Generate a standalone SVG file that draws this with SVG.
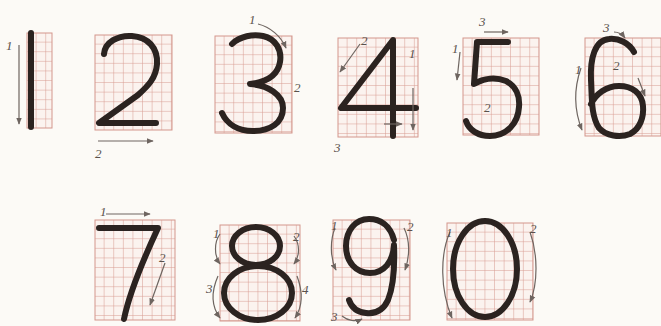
<svg xmlns="http://www.w3.org/2000/svg" width="661" height="326" viewBox="0 0 661 326">
<style>
.bg{fill:#fcfaf6}
.grid{fill:url(#g);stroke:#d3968c;stroke-width:1}
.d{fill:none;stroke:#2b2320;stroke-width:6;stroke-linecap:round;stroke-linejoin:round}
.a{fill:none;stroke:#6e6560;stroke-width:1.2;marker-end:url(#ah)}
.l{font-family:"Liberation Serif",serif;font-style:italic;font-size:13px;fill:#5a514c}
</style>
<defs>
<pattern id="g" width="9.6" height="9.6" patternUnits="userSpaceOnUse">
<rect width="9.6" height="9.6" fill="#fbf3ef"/>
<path d="M9.6 0V9.6M0 9.6H9.6" stroke="#d89a90" stroke-width="1" fill="none"/>
</pattern>
<marker id="ah" viewBox="0 0 10 10" refX="9" refY="5" markerWidth="6" markerHeight="6" orient="auto">
<path d="M0 1L10 5L0 9z" fill="#6e6560"/>
</marker>
</defs>
<rect class="bg" width="661" height="326"/>

<!-- grids -->
<g transform="translate(27,33)"><rect class="grid" width="25" height="95"/></g>
<g transform="translate(95,35)"><rect class="grid" width="77" height="95"/></g>
<g transform="translate(215,36)"><rect class="grid" width="77" height="97"/></g>
<g transform="translate(338,38)"><rect class="grid" width="80" height="99"/></g>
<g transform="translate(463,38)"><rect class="grid" width="76" height="97"/></g>
<g transform="translate(585,38)"><rect class="grid" width="76" height="98"/></g>
<g transform="translate(95,220)"><rect class="grid" width="80" height="100"/></g>
<g transform="translate(220,225)"><rect class="grid" width="80" height="96"/></g>
<g transform="translate(333,220)"><rect class="grid" width="77" height="100"/></g>
<g transform="translate(447,223)"><rect class="grid" width="86" height="97"/></g>

<!-- digits -->
<path class="d" d="M31 33V127"/>
<path class="d" d="M104 54C105 42 118 35 132 36C148 37 158 48 157 64C156 78 148 86 138 95L99 123H156"/>
<path class="d" d="M232 44C240 36 253 34 263 36C276 39 282 50 280 62C278 74 268 82 250 84C268 85 283 95 283 108C283 123 270 131 253 131C238 131 227 124 222 113"/>
<path class="d" d="M393 136V40L341 108H416"/>
<path class="d" d="M508 42H477L474 84C484 78 496 77 506 81C516 86 520 96 519 107C518 124 506 136 490 136C478 136 469 130 466 121"/>
<path class="d" d="M634 52C629 43 619 38 609 39C595 40 590 58 591 80C592 98 591 116 599 128C606 136 620 138 630 134C640 129 644 117 643 106C642 93 632 86 619 86C606 86 596 94 591 104"/>
<path class="d" d="M99 228H158C144 258 130 290 124 319"/>
<ellipse class="d" cx="256" cy="246" rx="24" ry="19"/>
<ellipse class="d" cx="258" cy="293" rx="34" ry="27"/>
<path class="d" d="M394 240C390 225 380 219 369 219C355 219 346 231 346 246C346 262 356 273 370 273C384 273 393 262 394 245C395 270 392 290 388 300C383 311 375 314 366 313C356 312 351 306 349 300"/>
<ellipse class="d" cx="485" cy="269" rx="32" ry="48"/>

<!-- arrows -->
<g id="connectors">
<path class="a" d="M19 45V124"/>
<path class="a" d="M98 141H153"/>
<path class="a" d="M258 24C270 27 281 36 286 48"/>
<path class="a" d="M413 88V130"/>
<path class="a" d="M384 124H402"/>
<path class="a" d="M360 44L340 72"/>
<path class="a" d="M484 32H508"/>
<path class="a" d="M460 52L457 80"/>
<path class="a" d="M614 32C618 32 622 34 625 38"/>
<path class="a" d="M581 68C574 88 574 110 582 130"/>
<path class="a" d="M638 78L645 96"/>
<path class="a" d="M106 214H150"/>
<path class="a" d="M165 263L150 305"/>
<path class="a" d="M220 234C214 242 214 256 220 264"/>
<path class="a" d="M294 236C300 244 300 256 294 264"/>
<path class="a" d="M218 276C211 292 211 306 220 318"/>
<path class="a" d="M297 276C303 292 303 306 295 318"/>
<path class="a" d="M335 228C330 240 330 258 336 270"/>
<path class="a" d="M404 228C410 240 410 256 405 270"/>
<path class="a" d="M342 316C348 321 356 322 362 319"/>
<path class="a" d="M450 232C440 254 440 290 452 318"/>
<path class="a" d="M530 232C538 254 538 284 530 302"/>
</g>

<!-- labels -->
<text class="l" x="6" y="50">1</text>
<text class="l" x="95" y="158">2</text>
<text class="l" x="249" y="24">1</text>
<text class="l" x="294" y="92">2</text>
<text class="l" x="361" y="45">2</text>
<text class="l" x="409" y="58">1</text>
<text class="l" x="334" y="152">3</text>
<text class="l" x="479" y="26">3</text>
<text class="l" x="452" y="53">1</text>
<text class="l" x="484" y="112">2</text>
<text class="l" x="603" y="32">3</text>
<text class="l" x="575" y="74">1</text>
<text class="l" x="613" y="70">2</text>
<text class="l" x="100" y="216">1</text>
<text class="l" x="159" y="262">2</text>
<text class="l" x="213" y="238">1</text>
<text class="l" x="293" y="241">2</text>
<text class="l" x="206" y="293">3</text>
<text class="l" x="302" y="294">4</text>
<text class="l" x="331" y="230">1</text>
<text class="l" x="407" y="231">2</text>
<text class="l" x="331" y="321" font-size="11">3</text>
<text class="l" x="446" y="237">1</text>
<text class="l" x="530" y="233">2</text>
</svg>
